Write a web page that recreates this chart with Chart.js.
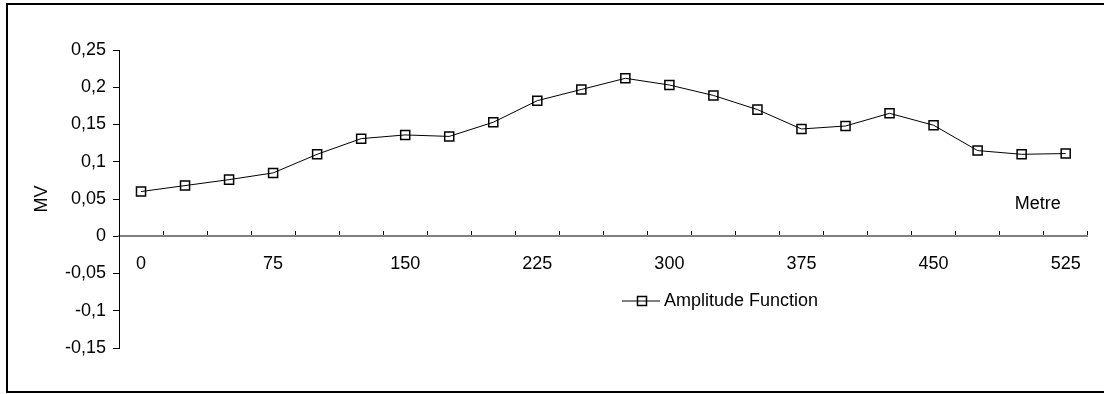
<!DOCTYPE html>
<html>
<head>
<meta charset="utf-8">
<script src="https://cdn.jsdelivr.net/npm/chart.js@4/dist/chart.umd.min.js"></script>
<style>
    html, body { margin: 0; padding: 0; background: #fff; overflow: hidden; }
    #wrap { position: relative; width: 1104px; height: 394px; overflow: hidden; }
    #frame {
        position: absolute; left: 6px; top: 3px; width: 1120px; height: 390px;
        box-sizing: border-box; border: 2px solid #000;
    }
    #amplitudeChart { position: absolute; left: 0; top: 0; }
</style>
</head>
<body>
<div id="wrap">
    <div id="frame"></div>
    <canvas id="amplitudeChart" width="1104" height="394"></canvas>
</div>
<script>
// ===============================
// DATA
// ===============================
const distances = [0, 25, 50, 75, 100, 125, 150, 175, 200, 225, 250,
                   275, 300, 325, 350, 375, 400, 425, 450, 475, 500, 525];
const amplitude = [0.060, 0.068, 0.076, 0.085, 0.110, 0.131, 0.136, 0.134, 0.153, 0.182, 0.197,
                   0.212, 0.203, 0.189, 0.170, 0.144, 0.148, 0.165, 0.149, 0.115, 0.110, 0.111];
const seriesName = "Amplitude Function";
const yAxisTitle = "MV";
const xAxisTitle = "Metre";
const labelEvery = 3;

const FONT = "'Liberation Sans', Arial, sans-serif";

// ===============================
// EXTRA TEXT + LEGEND PLUGIN
// ===============================
const extrasPlugin = {
    id: "extras",
    afterDraw(chart) {
        const ctx = chart.ctx;
        const xs = chart.scales.x;
        const ys = chart.scales.y;
        ctx.save();
        ctx.font = "18px " + FONT;
        ctx.fillStyle = "#000";
        ctx.textBaseline = "middle";

        // "Metre" label above the axis at the right end
        ctx.textAlign = "center";
        ctx.fillText(xAxisTitle, xs.getPixelForValue(distances.length - 1) - 28, ys.getPixelForValue(0.043));

        // legend: line + square + text
        const ly = 301;
        ctx.strokeStyle = "#000";
        ctx.lineWidth = 1;
        ctx.beginPath();
        ctx.moveTo(622, ly);
        ctx.lineTo(660, ly);
        ctx.stroke();
        ctx.lineWidth = 1.5;
        ctx.strokeRect(637.5, ly - 4.5, 9, 9);
        ctx.textAlign = "left";
        ctx.fillText(seriesName, 664, ly);
        ctx.restore();
    }
};

// ===============================
// CHART
// ===============================
const ctx = document.getElementById("amplitudeChart").getContext("2d");

new Chart(ctx, {
    type: "line",
    data: {
        labels: distances,
        datasets: [{
            label: seriesName,
            data: amplitude,
            borderColor: "#000",
            borderWidth: 1,
            tension: 0,
            pointStyle: "rect",
            pointRadius: 6.4,
            pointBackgroundColor: "rgba(0,0,0,0)",
            pointBorderColor: "#000",
            pointBorderWidth: 1.5
        }]
    },
    options: {
        responsive: false,
        animation: false,
        devicePixelRatio: 1,
        layout: {
            padding: { left: 10, right: 14, top: 50, bottom: 46 }
        },
        plugins: {
            legend: { display: false },
            tooltip: { enabled: false }
        },
        scales: {
            x: {
                type: "category",
                position: { y: 0 },
                offset: true,
                grid: {
                    display: true,
                    offset: true,
                    drawOnChartArea: false,
                    drawTicks: true,
                    tickLength: -6,
                    color: "#000",
                    lineWidth: 1
                },
                border: { display: true, color: "#808080", width: 2 },
                ticks: {
                    autoSkip: false,
                    maxRotation: 0,
                    padding: 23,
                    color: "#000",
                    font: { family: FONT, size: 18 },
                    callback: function (value, index) {
                        return index % labelEvery === 0 ? String(distances[index]) : "";
                    }
                }
            },
            y: {
                min: -0.15,
                max: 0.25,
                afterFit: function (scale) { scale.width = 109; },
                grid: {
                    display: true,
                    drawOnChartArea: false,
                    drawTicks: true,
                    tickLength: 6,
                    color: "#000"
                },
                border: { display: true, color: "#000", width: 1 },
                title: {
                    display: true,
                    text: yAxisTitle,
                    color: "#000",
                    font: { family: FONT, size: 18 },
                    padding: { top: 21, bottom: 0 }
                },
                ticks: {
                    stepSize: 0.05,
                    padding: 7,
                    color: "#000",
                    font: { family: FONT, size: 18 },
                    callback: function (value) {
                        return parseFloat(value.toFixed(2)).toString().replace(".", ",");
                    }
                }
            }
        }
    },
    plugins: [extrasPlugin]
});
</script>
</body>
</html>
